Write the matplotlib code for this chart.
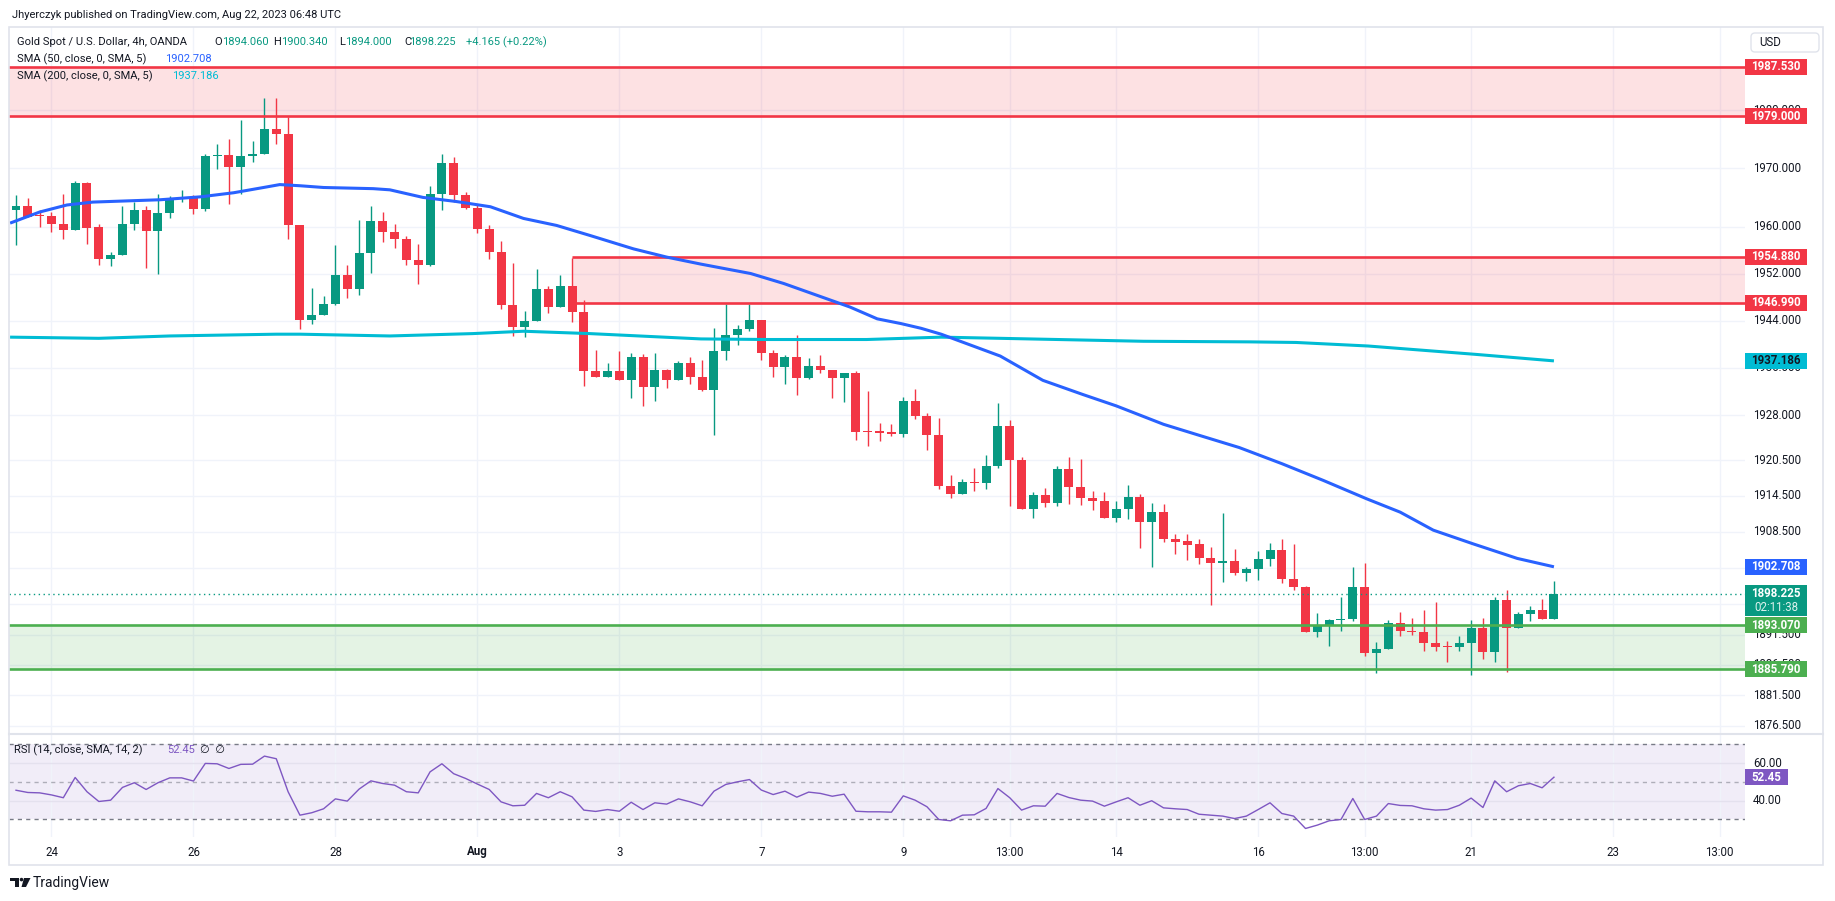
import matplotlib
matplotlib.use("Agg")
import matplotlib.pyplot as plt
from matplotlib.patches import Rectangle, FancyBboxPatch, Polygon, Circle
from matplotlib.lines import Line2D
from matplotlib.transforms import IdentityTransform

plt.rcParams['font.family'] = ['Roboto', 'DejaVu Sans']

W, H = 1835, 901

# XAUUSD 4h candles (oldest first)
opens = [1962.9, 1963.5, 1962.0, 1961.8, 1960.5, 1959.4, 1967.4, 1959.9, 1954.4, 1955.2,
         1960.5, 1962.8, 1959.3, 1962.3, 1964.7, 1964.9, 1963.1, 1972.1, 1972.3, 1970.3,
         1972.1, 1972.4, 1976.8, 1975.9, 1960.2, 1944.1, 1945.0, 1946.9, 1951.8, 1949.3,
         1955.5, 1961.0, 1959.1, 1957.9, 1954.3, 1953.4, 1965.5, 1970.9, 1965.4, 1963.2,
         1959.6, 1955.6, 1946.6, 1942.9, 1944.0, 1949.3, 1946.3, 1949.8, 1945.5, 1935.5,
         1934.5, 1935.4, 1933.9, 1937.8, 1932.8, 1935.6, 1934.0, 1936.8, 1934.5, 1932.2,
         1938.9, 1941.6, 1942.5, 1944.1, 1938.6, 1936.1, 1937.9, 1934.3, 1936.4, 1935.6,
         1934.3, 1935.1, 1925.4, 1925.4, 1925.2, 1924.8, 1930.4, 1927.9, 1924.7, 1916.1,
         1914.8, 1916.9, 1916.6, 1919.5, 1926.2, 1920.5, 1912.3, 1914.6, 1913.3, 1919.0,
         1916.0, 1914.2, 1913.6, 1910.8, 1912.4, 1914.3, 1910.1, 1911.9, 1907.4, 1907.0,
         1906.5, 1904.2, 1903.4, 1903.6, 1901.7, 1902.3, 1904.0, 1905.5, 1900.7, 1899.4,
         1892.0, 1893.0, 1893.9, 1894.1, 1899.4, 1888.4, 1889.2, 1893.4, 1892.1, 1891.9,
         1890.1, 1889.5, 1889.4, 1890.1, 1892.6, 1888.7, 1897.2, 1892.6, 1894.9, 1895.5,
         1894.06]
highs = [1965.35, 1964.85, 1962.8, 1962.5, 1965.5, 1967.8, 1967.6, 1960.5, 1955.6, 1963.5,
         1964.2, 1963.6, 1965.5, 1965.2, 1966.2, 1965.4, 1972.4, 1974.1, 1975.0, 1978.3,
         1974.7, 1982.1, 1982.1, 1978.9, 1960.3, 1949.5, 1948.1, 1956.8, 1953.5, 1961.2,
         1963.5, 1962.5, 1960.5, 1958.4, 1957.1, 1967.0, 1972.4, 1971.9, 1965.9, 1963.9,
         1960.2, 1957.5, 1953.8, 1945.6, 1952.8, 1949.8, 1951.8, 1954.7, 1947.5, 1939.1,
         1936.9, 1938.8, 1938.5, 1938.3, 1938.6, 1935.8, 1937.1, 1937.9, 1937.4, 1942.7,
         1946.9, 1943.3, 1946.8, 1944.1, 1939.0, 1938.2, 1941.6, 1937.6, 1938.1, 1935.7,
         1935.1, 1935.5, 1932.1, 1926.7, 1926.6, 1931.1, 1932.4, 1928.4, 1927.5, 1918.0,
         1917.4, 1919.1, 1921.3, 1930.0, 1927.2, 1921.0, 1915.1, 1915.9, 1919.5, 1921.0,
         1920.6, 1915.4, 1915.1, 1913.6, 1916.3, 1914.9, 1913.3, 1913.1, 1908.1, 1908.2,
         1907.4, 1906.0, 1911.6, 1905.6, 1902.6, 1905.3, 1906.6, 1907.3, 1906.5, 1899.6,
         1895.1, 1894.1, 1897.7, 1902.6, 1903.4, 1890.2, 1893.9, 1895.3, 1894.3, 1895.6,
         1896.8, 1890.4, 1891.2, 1893.9, 1894.3, 1897.7, 1898.9, 1895.3, 1896.2, 1897.3,
         1900.34]
lows = [1956.9, 1961.6, 1959.9, 1959.1, 1957.9, 1959.4, 1957.0, 1953.4, 1953.2, 1955.2,
        1959.4, 1953.0, 1951.9, 1961.4, 1964.2, 1962.1, 1962.6, 1969.8, 1963.9, 1965.6,
        1971.0, 1972.4, 1974.1, 1957.9, 1942.5, 1943.4, 1945.0, 1946.6, 1947.8, 1948.3,
        1952.1, 1957.4, 1956.3, 1953.4, 1950.2, 1953.2, 1962.9, 1964.2, 1963.0, 1958.9,
        1954.4, 1946.0, 1941.4, 1941.2, 1944.0, 1945.3, 1946.3, 1943.7, 1933.0, 1934.4,
        1934.5, 1933.9, 1930.9, 1929.6, 1930.4, 1932.6, 1934.0, 1933.3, 1932.1, 1924.7,
        1937.4, 1939.8, 1942.2, 1937.4, 1934.4, 1933.3, 1931.4, 1934.1, 1935.1, 1931.0,
        1930.2, 1923.8, 1922.9, 1923.7, 1924.5, 1924.3, 1927.4, 1922.2, 1915.6, 1914.2,
        1914.8, 1915.4, 1915.6, 1919.2, 1912.9, 1912.3, 1910.8, 1912.6, 1912.8, 1913.1,
        1913.0, 1912.1, 1910.8, 1910.1, 1910.6, 1905.9, 1902.7, 1906.9, 1904.9, 1903.8,
        1903.2, 1896.4, 1900.2, 1901.3, 1900.3, 1900.5, 1902.8, 1900.0, 1898.9, 1892.0,
        1891.1, 1889.6, 1892.1, 1893.8, 1888.0, 1885.2, 1889.2, 1891.3, 1891.4, 1888.8,
        1888.8, 1886.9, 1888.8, 1884.9, 1887.5, 1886.9, 1885.4, 1892.6, 1893.8, 1894.0,
        1894.0]
closes = [1963.5, 1961.7, 1961.8, 1960.4, 1959.4, 1967.4, 1959.8, 1954.4, 1955.2, 1960.5,
          1962.8, 1959.3, 1962.3, 1964.7, 1964.9, 1963.1, 1972.1, 1972.3, 1970.3, 1972.1,
          1972.4, 1976.8, 1975.9, 1960.2, 1944.1, 1945.0, 1946.9, 1951.8, 1949.3, 1955.5,
          1961.0, 1959.1, 1957.9, 1954.3, 1953.4, 1965.5, 1970.9, 1965.4, 1963.2, 1959.6,
          1955.6, 1946.6, 1942.9, 1944.0, 1949.3, 1946.3, 1949.8, 1945.5, 1935.5, 1934.5,
          1935.4, 1933.9, 1937.8, 1932.8, 1935.6, 1934.0, 1936.8, 1934.5, 1932.2, 1938.9,
          1941.6, 1942.5, 1944.1, 1938.6, 1936.1, 1937.9, 1934.3, 1936.4, 1935.6, 1934.3,
          1935.1, 1925.2, 1925.2, 1925.0, 1924.8, 1930.4, 1927.9, 1924.7, 1916.1, 1914.8,
          1916.9, 1916.6, 1919.5, 1926.2, 1920.5, 1912.3, 1914.6, 1913.3, 1919.0, 1916.0,
          1914.2, 1913.6, 1910.8, 1912.4, 1914.3, 1910.1, 1911.9, 1907.3, 1906.9, 1906.4,
          1904.2, 1903.4, 1903.6, 1901.7, 1902.3, 1904.0, 1905.5, 1900.7, 1899.4, 1892.0,
          1893.0, 1893.9, 1894.1, 1899.4, 1888.4, 1889.2, 1893.4, 1892.1, 1891.9, 1890.1,
          1889.4, 1889.4, 1890.1, 1892.6, 1888.7, 1897.2, 1892.6, 1894.9, 1895.5, 1894.06,
          1898.225]

# moving averages, sampled along the drawn lines (x = candle number)
sma50_x = [-0.5, 2, 4.3, 6.5, 12.2, 15.6, 18.4, 21.2, 22.3, 24, 26, 30.2, 31.6, 34.4, 37.2,
           40.1, 42.9, 45.7, 48.5, 52.2, 55.0, 57.9, 62.1, 64.9, 67.7, 70.5, 72.8, 74.8, 76.5,
           78.2, 83.2, 86.8, 90.2, 93.0, 97.0, 100.1, 103.4, 107, 110.5, 114.2, 117.0, 119.8,
           123.2, 126.9, 130]
sma50_y = [1960.6, 1962.5, 1963.7, 1964.2, 1964.6, 1965.1, 1965.8, 1966.8, 1967.2, 1967.0,
           1966.7, 1966.5, 1966.3, 1965.0, 1964.3, 1963.4, 1961.4, 1960.2, 1958.5, 1956.2,
           1954.8, 1953.6, 1952.0, 1950.3, 1948.3, 1946.3, 1944.3, 1943.5, 1942.7, 1941.7,
           1938.0, 1933.9, 1931.5, 1929.6, 1926.5, 1924.6, 1922.6, 1919.9, 1917.1, 1914.0,
           1911.8, 1908.8, 1906.5, 1904.1, 1902.708]
sma200_x = [-0.5, 7, 13, 22, 24, 31.6, 38.6, 42.9, 48.5, 57.9, 63.5, 71.9, 78.2, 83.2, 95.3,
            104.3, 108.2, 114.3, 123.3, 130]
sma200_y = [1941.2, 1941.0, 1941.4, 1941.7, 1941.7, 1941.4, 1941.8, 1942.2, 1941.8, 1940.9,
            1940.8, 1940.8, 1941.2, 1941.0, 1940.5, 1940.4, 1940.3, 1939.7, 1938.3, 1937.186]

rsi = [45.5, 44.3, 44.1, 43.0, 41.5, 52.3, 44.7, 39.5, 40.2, 47.0,
       49.5, 45.9, 49.5, 52.1, 52.1, 50.4, 59.8, 59.6, 57.1, 59.3,
       59.4, 63.7, 62.3, 44.7, 32.2, 33.5, 35.6, 40.9, 39.7, 46.1,
       50.5, 49.1, 48.2, 44.7, 44.1, 55.3, 59.6, 54.3, 51.8, 48.8,
       45.9, 39.3, 37.2, 37.5, 43.8, 41.5, 44.7, 42.0, 34.9, 34.2,
       35.2, 34.3, 39.1, 35.2, 38.8, 38.1, 40.9, 39.3, 37.2, 45.0,
       48.6, 50.0, 51.2, 45.6, 43.2, 45.0, 41.8, 44.5, 43.8, 42.3,
       43.4, 34.3, 34.0, 34.0, 33.8, 42.5, 40.2, 36.7, 29.9, 29.2,
       32.2, 32.4, 35.8, 46.4, 41.5, 34.9, 37.2, 37.0, 43.8, 41.6,
       40.2, 39.7, 37.0, 39.3, 41.5, 37.5, 39.9, 36.1, 35.6, 35.2,
       32.7, 32.2, 31.7, 30.4, 31.7, 35.2, 38.8, 33.1, 31.7, 25.1,
       26.9, 29.2, 29.9, 41.1, 29.9, 31.7, 38.4, 37.4, 37.2, 35.6,
       34.9, 35.2, 37.5, 41.3, 36.3, 50.5, 44.7, 47.9, 49.1, 46.8,
       52.45]

zone_top = [1979.0, 1987.53]
zone_mid = [1946.99, 1954.88]
zone_mid_start = 47
zone_low = [1885.79, 1893.07]

price_ticks = [1876.5, 1881.5, 1886.5, 1891.5, 1896.5, 1902.5, 1908.5, 1914.5, 1920.5,
               1928.0, 1936.0, 1944.0, 1952.0, 1960.0, 1970.0, 1980.0]
time_ticks = [3, 15, 27, 39, 51, 63, 75, 84, 93, 105, 114, 123, 135, 144]
time_labels = ['24', '26', '28', 'Aug', '3', '7', '9', '13:00', '14', '16', '13:00', '21',
               '23', '13:00']

UP = '#089981'
DOWN = '#F23645'
RED = '#F23645'
GREEN = '#4CAF50'
BLUE = '#2962FF'
CYAN = '#00BCD4'
PURPLE = '#7E57C2'
TXT = '#131722'
GRID = '#F0F3FA'
BORDER = '#E0E3EB'

fig = plt.figure(figsize=(W / 100, H / 100), dpi=100)
fig.patch.set_facecolor('white')


def ftext(x, y, s, **kw):
    kw.setdefault('fontsize', 8)
    kw.setdefault('color', TXT)
    kw.setdefault('va', 'center')
    kw.setdefault('ha', 'left')
    return fig.text(x / W, 1 - y / H, s, **kw)


def fbox(x0, y0, x1, y1, **kw):
    r = Rectangle((x0 / W, 1 - y1 / H), (x1 - x0) / W, (y1 - y0) / H,
                  transform=fig.transFigure, **kw)
    fig.add_artist(r)
    return r


def fline(x0, y0, x1, y1, **kw):
    fig.add_artist(Line2D([x0 / W, x1 / W], [1 - y0 / H, 1 - y1 / H],
                          transform=fig.transFigure, **kw))


L, R = 9.4, 1745.0
ax = fig.add_axes([L / W, 1 - 733 / H, (R - L) / W, (733 - 27) / H])
ax2 = fig.add_axes([L / W, 1 - 837 / H, (R - L) / W, (837 - 734) / H])
xmin, xmax = -0.558, 146.15
for a in (ax, ax2):
    a.set_xlim(xmin, xmax)
    a.set_axis_off()
ax.set_yscale('log')
ax.set_ylim(1875.33, 1994.42)
ax2.set_ylim(20.56, 75.49)

# grid
for p in price_ticks:
    ax.axhline(p, color=GRID, lw=1, zorder=0.5)
for t in time_ticks:
    ax.axvline(t, color=GRID, lw=1, zorder=0.5)
    ax2.axvline(t, color=GRID, lw=1, zorder=0.5)

# zones
ax.axhspan(zone_top[0], zone_top[1], color=RED, alpha=0.15, lw=0, zorder=1)
ax.fill_between([zone_mid_start, xmax], zone_mid[0], zone_mid[1], color=RED, alpha=0.15,
                lw=0, zorder=1)
ax.axhspan(zone_low[0], zone_low[1], color=GREEN, alpha=0.15, lw=0, zorder=1)

# candles
idx = list(range(len(closes)))
cols = [UP if c >= o else DOWN for o, c in zip(opens, closes)]
ax.vlines(idx, lows, highs, colors=cols, linewidth=1.0, zorder=2)
bottoms = [min(o, c) for o, c in zip(opens, closes)]
heights = [max(abs(c - o), 0.15) for o, c in zip(opens, closes)]
ax.bar(idx, heights, bottom=bottoms, width=0.76, color=cols, linewidth=0, zorder=2)

for v in zone_top:
    ax.axhline(v, color=RED, lw=1.9, zorder=3)
ax.hlines(zone_mid, zone_mid_start, xmax, colors=RED, lw=1.9, zorder=3)
for v in zone_low:
    ax.axhline(v, color=GREEN, lw=1.9, zorder=3)
ax.axhline(closes[-1], color=UP, lw=1.0, ls=(0, (1, 2.5)), zorder=3)

ax.plot(sma200_x, sma200_y, color=CYAN, lw=2.2, zorder=4, solid_capstyle='butt')
ax.plot(sma50_x, sma50_y, color=BLUE, lw=2.2, zorder=4, solid_capstyle='butt')

# RSI pane
ax2.axhspan(30, 70, color=PURPLE, alpha=0.1, lw=0, zorder=0.3)
for v in (60, 40):
    ax2.axhline(v, color='#E4E1EE', lw=1, zorder=0.5)
ax2.axhline(70, color='#787B86', lw=1, ls=(0, (3, 3)), zorder=1)
ax2.axhline(30, color='#787B86', lw=1, ls=(0, (3, 3)), zorder=1)
ax2.axhline(50, color='#787B86', lw=1, ls=(0, (3, 3)), alpha=0.55, zorder=1)
ax2.plot(idx, rsi, color=PURPLE, lw=1.0, zorder=3)


def ypix(a, v):
    return H - a.transData.transform((0, v))[1]


def tag(a, v, s, bg, fg='white', w=61.7, h=16):
    y = ypix(a, v)
    fbox(1745, y - h / 2, 1745 + w, y + h / 2, facecolor=bg, edgecolor='none', zorder=10)
    ftext(1745 + w / 2, y, s, ha='center', color=fg, fontsize=8.3, fontweight='bold',
          zorder=11)


# price scale
for p in price_ticks:
    ftext(1753, ypix(ax, p), f'{p:.3f}', fontsize=8.3, zorder=5)
for v in zone_top + zone_mid:
    tag(ax, v, f'{v:.3f}', RED)
tag(ax, sma200_y[-1], f'{sma200_y[-1]:.3f}', CYAN, fg=TXT)
tag(ax, sma50_y[-1], f'{sma50_y[-1]:.3f}', BLUE)
yl = ypix(ax, closes[-1])
fbox(1745, yl - 8.7, 1806.7, yl + 22.5, facecolor=UP, edgecolor='none', zorder=10)
ftext(1776, yl, f'{closes[-1]:.3f}', ha='center', color='white', fontsize=8.3,
      fontweight='bold', zorder=11)
ftext(1776, yl + 13.5, '02:11:38', ha='center', color='#DDF2EE', fontsize=8.3, zorder=11)
for v in zone_low:
    tag(ax, v, f'{v:.3f}', GREEN)

usd = FancyBboxPatch((1751, H - 52), 68, 19, boxstyle='round,pad=0,rounding_size=4',
                     transform=IdentityTransform(), facecolor='white', edgecolor=BORDER, lw=1)
fig.add_artist(usd)
ftext(1759, 42.5, 'USD', fontsize=8.3)

# RSI scale
ftext(1753, ypix(ax2, 60), '60.00', fontsize=8.3)
ftext(1753, ypix(ax2, 40), '40.00', fontsize=8.3)
tag(ax2, rsi[-1], f'{rsi[-1]:.2f}', PURPLE, w=43)

# time scale
for t, lab in zip(time_ticks, time_labels):
    xp = ax2.transData.transform((t, 0))[0]
    ftext(xp, 852, lab, ha='center', fontsize=8.3,
          fontweight='bold' if lab == 'Aug' else 'normal')

# frame and separators
fbox(9.4, 27, 1823, 865, facecolor='none', edgecolor=BORDER, lw=1.2, zorder=12)
fline(9.4, 733.5, 1823, 733.5, color=BORDER, lw=1.5, zorder=12)

# header and legends
ftext(11.5, 15, 'Jhyerczyk published on TradingView.com, Aug 22, 2023 06:48 UTC')
y0 = 42.3
chg = closes[-1] - opens[-1]
ftext(17, y0, 'Gold Spot / U.S. Dollar, 4h, OANDA')
ftext(214.6, y0, 'O')
ftext(222, y0, f'{opens[-1]:.3f}', color=UP)
ftext(272.8, y0, 'H')
ftext(280.8, y0, f'{highs[-1]:.3f}', color=UP)
ftext(339, y0, 'L')
ftext(344.8, y0, f'{lows[-1]:.3f}', color=UP)
ftext(404.2, y0, 'C')
ftext(409.2, y0, f'{closes[-1]:.3f}', color=UP)
ftext(465.5, y0, f'+{chg:.3f} (+{chg / opens[-1] * 100:.2f}%)', color=UP)
ftext(17, 59, 'SMA (50, close, 0, SMA, 5)')
ftext(165.5, 59, f'{sma50_y[-1]:.3f}', color=BLUE)
ftext(17, 76, 'SMA (200, close, 0, SMA, 5)')
ftext(171.6, 76, f'{sma200_y[-1]:.3f}', color=CYAN)

ftext(14, 750, 'RSI (14, close, SMA, 14, 2)')
ftext(167, 750, f'{rsi[-1]:.2f}', color=PURPLE)
ftext(200, 750, '\u2205  \u2205')

# TradingView mark
tr = IdentityTransform()
fig.add_artist(Rectangle((10, H - 881), 8.5, 3.2, transform=tr, color=TXT, lw=0))
fig.add_artist(Rectangle((14.5, H - 887), 4, 9, transform=tr, color=TXT, lw=0))
fig.add_artist(Circle((21.5, H - 879.6), 1.8, transform=tr, color=TXT, lw=0))
fig.add_artist(Polygon([(24, H - 878), (30.5, H - 878), (26, H - 887), (21.5, H - 887)],
                       closed=True, transform=tr, color=TXT, lw=0))
ftext(33, 882.5, 'TradingView', fontsize=10)

fig.savefig('out.png', dpi=100, facecolor='white')
